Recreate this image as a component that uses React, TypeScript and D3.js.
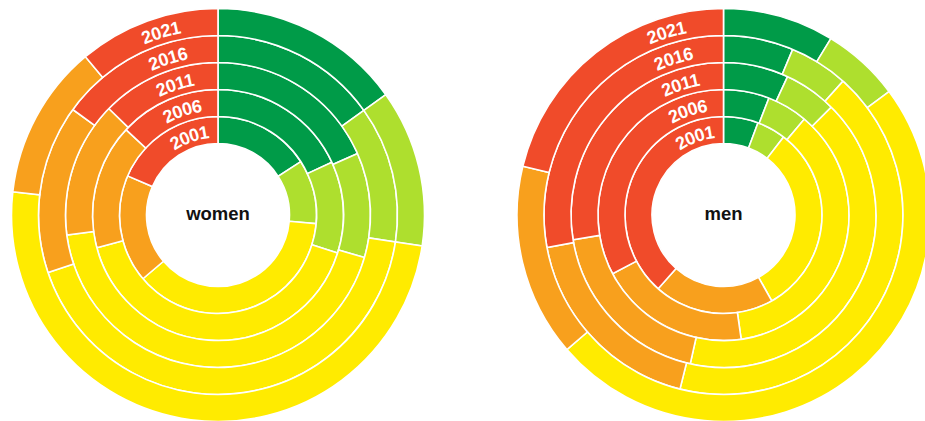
import React from "react";
import * as d3 from "d3";

const years = ["2001", "2006", "2011", "2016", "2021"];
const categories = ["very good", "good", "average", "poor", "very poor"];
const colors = ["#009b48", "#aedf2e", "#ffeb00", "#f8a01d", "#f04b2a"];

const womenValues = [
  [15.9, 10.5, 37.4, 17.7, 18.5],
  [18.1, 11.8, 40.9, 16.1, 13.1],
  [18.4, 11.1, 43.4, 14.4, 12.7],
  [15.1, 12.3, 42.4, 15.2, 15.0],
  [15.1, 12.3, 49.4, 12.1, 11.1],
];
const menValues = [
  [5.7, 4.75, 31.4, 19.7, 38.45],
  [5.9, 5.25, 36.6, 19.5, 32.75],
  [6.9, 5.6, 41.0, 18.9, 27.6],
  [6.3, 5.3, 42.3, 18.2, 27.9],
  [8.7, 6.1, 48.9, 15.1, 21.2],
];
const panels = [
  { name: "women", values: womenValues, cx: 218 },
  { name: "men", values: menValues, cx: 723.5 },
];

const W = 925;
const H = 421;
const CY = 215;
const R0 = 71.5;
const RING = 27;

function Donut({ name, values, cx }: { name: string; values: number[][]; cx: number }) {
  const pie = d3.pie<number>().sort(null).value((d) => d);
  return (
    <g transform={`translate(${cx},${CY})`}>
      {values.map((row, i) => {
        const inner = R0 + i * RING;
        const outer = inner + RING;
        const arc = d3.arc<d3.PieArcDatum<number>>().innerRadius(inner).outerRadius(outer);
        return (
          <g key={i}>
            {pie(row).map((a, j) => (
              <path key={j} d={arc(a) || ""} fill={colors[j]} stroke="#fff" strokeWidth={1.6} strokeLinejoin="miter" />
            ))}
          </g>
        );
      })}
      {values.map((_, i) => {
        const r = R0 + i * RING + RING / 2 - 1;
        const path = d3.path();
        path.arc(0, 0, r, -Math.PI, -Math.PI / 2, false);
        const len = (r * Math.PI) / 2;
        const off = len - (29.6 + 7.1 * i);
        const id = `lab-${name}-${i}`;
        return (
          <g key={"t" + i}>
            <path id={id} d={path.toString()} fill="none" stroke="none" />
            <text
              fontFamily="'Liberation Sans', Arial, sans-serif"
              fontWeight="bold"
              fontSize={18}
              fill="#fff"
              textAnchor="middle"
              dy="0.36em"
            >
              <textPath href={`#${id}`} startOffset={off}>
                {years[i]}
              </textPath>
            </text>
          </g>
        );
      })}
      <text
        x={0}
        y={5}
        textAnchor="middle"
        fontFamily="'Liberation Sans', Arial, sans-serif"
        fontWeight="bold"
        fontSize={18.5}
        fill="#111"
      >
        {name}
      </text>
    </g>
  );
}

export default function App() {
  return (
    <svg
      width={W}
      height={H}
      viewBox={`0 0 ${W} ${H}`}
      style={{ position: "absolute", left: 0, top: 0, background: "#fff" }}
    >
      {panels.map((p) => (
        <Donut key={p.name} name={p.name} values={p.values} cx={p.cx} />
      ))}
    </svg>
  );
}
